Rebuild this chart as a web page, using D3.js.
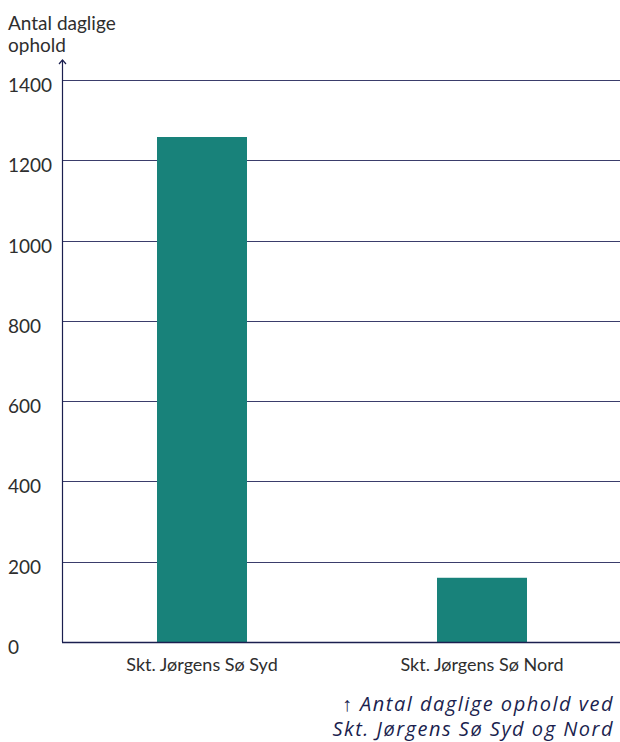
<!DOCTYPE html>
<html>
<head>
<meta charset="utf-8">
<script src="https://cdn.jsdelivr.net/npm/d3@7"></script>
<style>
  html, body { margin: 0; padding: 0; background: #fff; }
  svg { display: block; font-family: "Lato", "Open Sans", sans-serif; }
</style>
</head>
<body>
<div id="chart"></div>
<script>
const categories = ["Skt. Jørgens Sø Syd", "Skt. Jørgens Sø Nord"];
const values = [1258, 160];
const yTicks = [0, 200, 400, 600, 800, 1000, 1200, 1400];
const yTitle = ["Antal daglige", "ophold"];
const caption = ["↑ Antal daglige ophold ved", "Skt. Jørgens Sø Syd og Nord"];

const W = 620, H = 742;
const margin = { top: 80, right: 0, bottom: 100, left: 62 };
const navy = "#1b1f4f";
const textCol = "#2e2e2e";

const svg = d3.select("#chart").append("svg")
    .attr("width", W)
    .attr("height", H);

const x = d3.scaleBand()
    .domain(categories)
    .range([margin.left, margin.left + 560])
    .paddingInner(0.6786)
    .paddingOuter(0.3393);

const y = d3.scaleLinear()
    .domain([0, 1400])
    .range([H - margin.bottom, margin.top]);

// gridlines
svg.append("g")
  .selectAll("line")
  .data(yTicks.filter(d => d > 0))
  .join("line")
    .attr("x1", margin.left)
    .attr("x2", W)
    .attr("y1", d => Math.round(y(d)) + 0.5)
    .attr("y2", d => Math.round(y(d)) + 0.5)
    .attr("stroke", "#3a3d6b")
    .attr("stroke-width", 1);

// y tick labels
svg.append("g")
  .selectAll("text")
  .data(yTicks)
  .join("text")
    .attr("x", 8)
    .attr("y", d => y(d) + 12)
    .attr("font-size", 19)
    .attr("fill", textCol)
    .text(d => d);

// bars
svg.append("g")
  .selectAll("rect")
  .data(values)
  .join("rect")
    .attr("x", (d, i) => x(categories[i]))
    .attr("width", x.bandwidth())
    .attr("y", d => y(d))
    .attr("height", d => y(0) - y(d))
    .attr("fill", "#18827a");

// y axis line with arrow
const yTop = margin.top - 20;
svg.append("line")
    .attr("x1", margin.left + 0.5).attr("x2", margin.left + 0.5)
    .attr("y1", y(0)).attr("y2", yTop)
    .attr("stroke", navy).attr("stroke-width", 1.2);
svg.append("path")
    .attr("d", `M${margin.left - 3},${yTop + 4} L${margin.left + 0.5},${yTop} L${margin.left + 4},${yTop + 4}`)
    .attr("fill", "none")
    .attr("stroke", navy)
    .attr("stroke-width", 1.2);

// x axis baseline
svg.append("line")
    .attr("x1", margin.left)
    .attr("x2", W)
    .attr("y1", y(0) + 0.5)
    .attr("y2", y(0) + 0.5)
    .attr("stroke", navy)
    .attr("stroke-width", 1.5);

// category labels
svg.append("g")
  .selectAll("text")
  .data(categories)
  .join("text")
    .attr("x", d => x(d) + x.bandwidth() / 2)
    .attr("y", y(0) + 29)
    .attr("text-anchor", "middle")
    .attr("font-size", 18)
    .attr("fill", textCol)
    .text(d => d);

// y axis title
svg.append("g")
  .selectAll("text")
  .data(yTitle)
  .join("text")
    .attr("x", 8)
    .attr("y", (d, i) => 30 + i * 22)
    .attr("font-size", 19)
    .attr("fill", textCol)
    .text(d => d);

// caption
svg.append("g")
  .selectAll("text")
  .data(caption)
  .join("text")
    .attr("x", 614)
    .attr("y", (d, i) => 711 + i * 25)
    .attr("text-anchor", "end")
    .attr("font-family", "'Open Sans', sans-serif")
    .attr("font-size", 20)
    .attr("letter-spacing", 1.5)
    .attr("font-style", "italic")
    .attr("fill", navy)
    .text(d => d);
</script>
</body>
</html>
